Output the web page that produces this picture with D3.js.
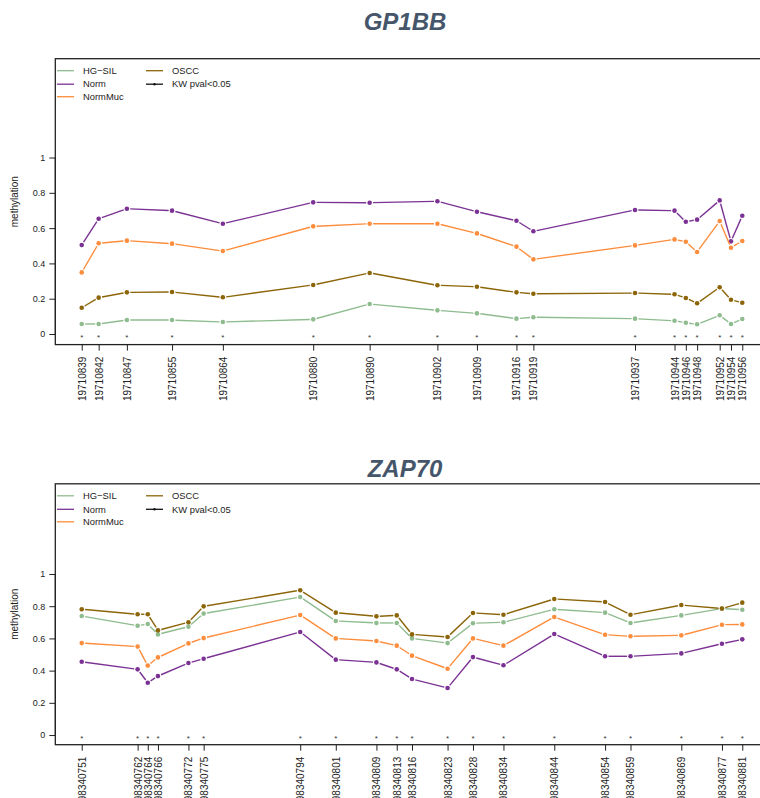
<!DOCTYPE html>
<html>
<head>
<meta charset="utf-8">
<script src="https://cdn.jsdelivr.net/npm/d3@7"></script>
<style>
  body { margin: 0; background: #fff; }
  svg { display: block; font-family: "Liberation Sans", Arial, Helvetica, sans-serif; }
</style>
</head>
<body>
<svg id="chart" width="760" height="798"></svg>
<script>
// Sample groups, their legend labels and colours
const groups = ["HG-SIL", "Norm", "NormMuc", "OSCC"];
const groupLabels = ["HG\u2212SIL", "Norm", "NormMuc", "OSCC"];
const groupColors = ["#8fbc8f", "#7b3294", "#fd8d3c", "#8b6508"];
const yTicks = [0, 0.2, 0.4, 0.6, 0.8, 1];
const yTickLabels = ["0", "0.2", "0.4", "0.6", "0.8", "1"];

// GP1BB: CpG positions and mean methylation per group
const gp1bbPositions = [19710839, 19710842, 19710847, 19710855, 19710864, 19710880, 19710890, 19710902, 19710909,
  19710916, 19710919, 19710937, 19710944, 19710946, 19710948, 19710952, 19710954, 19710956];
const gp1bbHGSIL = [0.057, 0.057, 0.079, 0.079, 0.068, 0.083, 0.170, 0.134, 0.117, 0.087, 0.095, 0.087, 0.075, 0.064, 0.055, 0.106, 0.057, 0.085];
const gp1bbNorm = [0.504, 0.653, 0.710, 0.699, 0.625, 0.746, 0.744, 0.752, 0.693, 0.642, 0.582, 0.703, 0.699, 0.636, 0.648, 0.757, 0.525, 0.670];
const gp1bbNormMuc = [0.349, 0.514, 0.529, 0.512, 0.470, 0.610, 0.625, 0.625, 0.570, 0.495, 0.423, 0.502, 0.536, 0.523, 0.465, 0.640, 0.489, 0.527];
const gp1bbOSCC = [0.149, 0.206, 0.236, 0.238, 0.208, 0.278, 0.346, 0.276, 0.268, 0.236, 0.228, 0.232, 0.225, 0.204, 0.174, 0.265, 0.194, 0.177];
// positions with Kruskal-Wallis p < 0.05
const gp1bbKW = gp1bbPositions.slice();

// ZAP70
const zap70Positions = [98340751, 98340762, 98340764, 98340766, 98340772, 98340775, 98340794, 98340801, 98340809, 98340813,
  98340816, 98340823, 98340828, 98340834, 98340844, 98340854, 98340859, 98340869, 98340877, 98340881];
const zap70HGSIL = [0.739, 0.679, 0.689, 0.625, 0.673, 0.754, 0.857, 0.708, 0.696, 0.696, 0.600, 0.571, 0.694, 0.700, 0.781, 0.760, 0.696, 0.743, 0.785, 0.778];
const zap70Norm = [0.455, 0.408, 0.325, 0.366, 0.447, 0.474, 0.640, 0.468, 0.451, 0.408, 0.348, 0.292, 0.484, 0.433, 0.627, 0.489, 0.489, 0.507, 0.567, 0.594];
const zap70NormMuc = [0.571, 0.549, 0.431, 0.482, 0.569, 0.602, 0.745, 0.600, 0.584, 0.555, 0.493, 0.412, 0.600, 0.555, 0.733, 0.623, 0.613, 0.619, 0.685, 0.687];
const zap70OSCC = [0.781, 0.750, 0.750, 0.650, 0.700, 0.799, 0.899, 0.760, 0.737, 0.743, 0.625, 0.609, 0.758, 0.747, 0.845, 0.826, 0.747, 0.807, 0.785, 0.822];
const zap70KW = zap70Positions.slice();

const panels = [
  { title: "GP1BB", positions: gp1bbPositions, series: [gp1bbHGSIL, gp1bbNorm, gp1bbNormMuc, gp1bbOSCC], kw: gp1bbKW,
    titleY: 30, top: 58.7, bottom: 344.6 },
  { title: "ZAP70", positions: zap70Positions, series: [zap70HGSIL, zap70Norm, zap70NormMuc, zap70OSCC], kw: zap70KW,
    titleY: 477, top: 483.8, bottom: 744.7 }
];

const svg = d3.select("#chart");
const plotLeft = 55.3, plotRight = 768.7;
const gap = 3.4;      // break in each line segment around a point
const pointR = 2.3;

function drawPanel(p) {
  const g = svg.append("g");
  const [xmin, xmax] = d3.extent(p.positions);
  const xpad = (xmax - xmin) * 0.04;
  const x = d3.scaleLinear().domain([xmin - xpad, xmax + xpad]).range([plotLeft, plotRight]);
  const y = d3.scaleLinear().domain([-0.06, 1.56]).range([p.bottom, p.top]);

  // title
  g.append("text")
    .attr("x", 405).attr("y", p.titleY)
    .attr("text-anchor", "middle")
    .attr("font-size", 24).attr("font-weight", "bold").attr("font-style", "italic")
    .attr("fill", "#46566a")
    .text(p.title);

  // plot frame
  g.append("rect")
    .attr("x", plotLeft).attr("y", p.top)
    .attr("width", plotRight - plotLeft).attr("height", p.bottom - p.top)
    .attr("fill", "none").attr("stroke", "#222").attr("stroke-width", 1.3);

  // y axis
  const yAxis = d3.axisLeft(y).tickValues(yTicks).tickSize(6).tickPadding(4)
    .tickFormat((d, i) => yTickLabels[i]);
  const ya = g.append("g").attr("transform", `translate(${plotLeft},0)`).call(yAxis);
  ya.select(".domain").remove();
  ya.selectAll("line").attr("stroke", "#222");
  ya.selectAll("text").attr("font-size", 9).attr("fill", "#222").attr("font-family", null);
  ya.append("line").attr("x1", 0).attr("x2", 0).attr("y1", y(0)).attr("y2", y(1)).attr("stroke", "#222");

  g.append("text")
    .attr("transform", `translate(18,${(p.top + p.bottom) / 2}) rotate(-90)`)
    .attr("text-anchor", "middle")
    .attr("font-size", 10).attr("fill", "#222")
    .text("methylation");

  // x axis with rotated position labels
  const xAxis = d3.axisBottom(x).tickValues(p.positions).tickSize(6).tickFormat(d3.format("d"));
  const xa = g.append("g").attr("transform", `translate(0,${p.bottom})`).call(xAxis);
  xa.select(".domain").remove();
  xa.selectAll("line").attr("stroke", "#222");
  xa.selectAll("text")
    .attr("font-size", 10).attr("fill", "#222").attr("font-family", null)
    .attr("text-anchor", "end")
    .attr("transform", "rotate(-90)")
    .attr("x", -12).attr("y", 0).attr("dy", "0.35em");

  // significance markers
  g.append("g").selectAll("text").data(p.kw).join("text")
    .attr("x", d => x(d)).attr("y", y(0) + 5.5)
    .attr("text-anchor", "middle")
    .attr("font-size", 8).attr("fill", "#333")
    .text("*");

  // series: broken lines with points (lines stop short of each point)
  p.series.forEach((vals, si) => {
    const pts = vals.map((v, i) => [x(p.positions[i]), y(v)]);
    const sg = g.append("g");
    const segs = [];
    for (let i = 0; i < pts.length - 1; i++) {
      const [x0, y0] = pts[i], [x1, y1] = pts[i + 1];
      const len = Math.hypot(x1 - x0, y1 - y0);
      if (len <= 2 * gap) continue;
      const ux = (x1 - x0) / len, uy = (y1 - y0) / len;
      segs.push([x0 + ux * gap, y0 + uy * gap, x1 - ux * gap, y1 - uy * gap]);
    }
    sg.selectAll("line").data(segs).join("line")
      .attr("x1", d => d[0]).attr("y1", d => d[1])
      .attr("x2", d => d[2]).attr("y2", d => d[3])
      .attr("stroke", groupColors[si]).attr("stroke-width", 1.4);
    sg.selectAll("circle").data(pts).join("circle")
      .attr("cx", d => d[0]).attr("cy", d => d[1]).attr("r", pointR)
      .attr("fill", groupColors[si]);
  });

  // legend
  const lg = g.append("g").attr("font-size", 9.4).attr("fill", "#222");
  const rowY = [p.top + 12, p.top + 25.5, p.top + 38];
  const legendItems = [
    { label: groupLabels[0], color: groupColors[0], col: 0, row: 0 },
    { label: groupLabels[1], color: groupColors[1], col: 0, row: 1 },
    { label: groupLabels[2], color: groupColors[2], col: 0, row: 2 },
    { label: groupLabels[3], color: groupColors[3], col: 1, row: 0 },
    { label: "KW pval<0.05", color: "#111", col: 1, row: 1, dot: true }
  ];
  const colX = [57, 146];
  legendItems.forEach(it => {
    const lx = colX[it.col], ly = rowY[it.row];
    lg.append("line").attr("x1", lx).attr("x2", lx + 17).attr("y1", ly).attr("y2", ly)
      .attr("stroke", it.color).attr("stroke-width", 1.3);
    if (it.dot) lg.append("circle").attr("cx", lx + 8.5).attr("cy", ly).attr("r", 1.2).attr("fill", it.color);
    lg.append("text").attr("x", lx + 26).attr("y", ly).attr("dy", "0.35em").text(it.label);
  });
}

panels.forEach(drawPanel);
</script>
</body>
</html>
